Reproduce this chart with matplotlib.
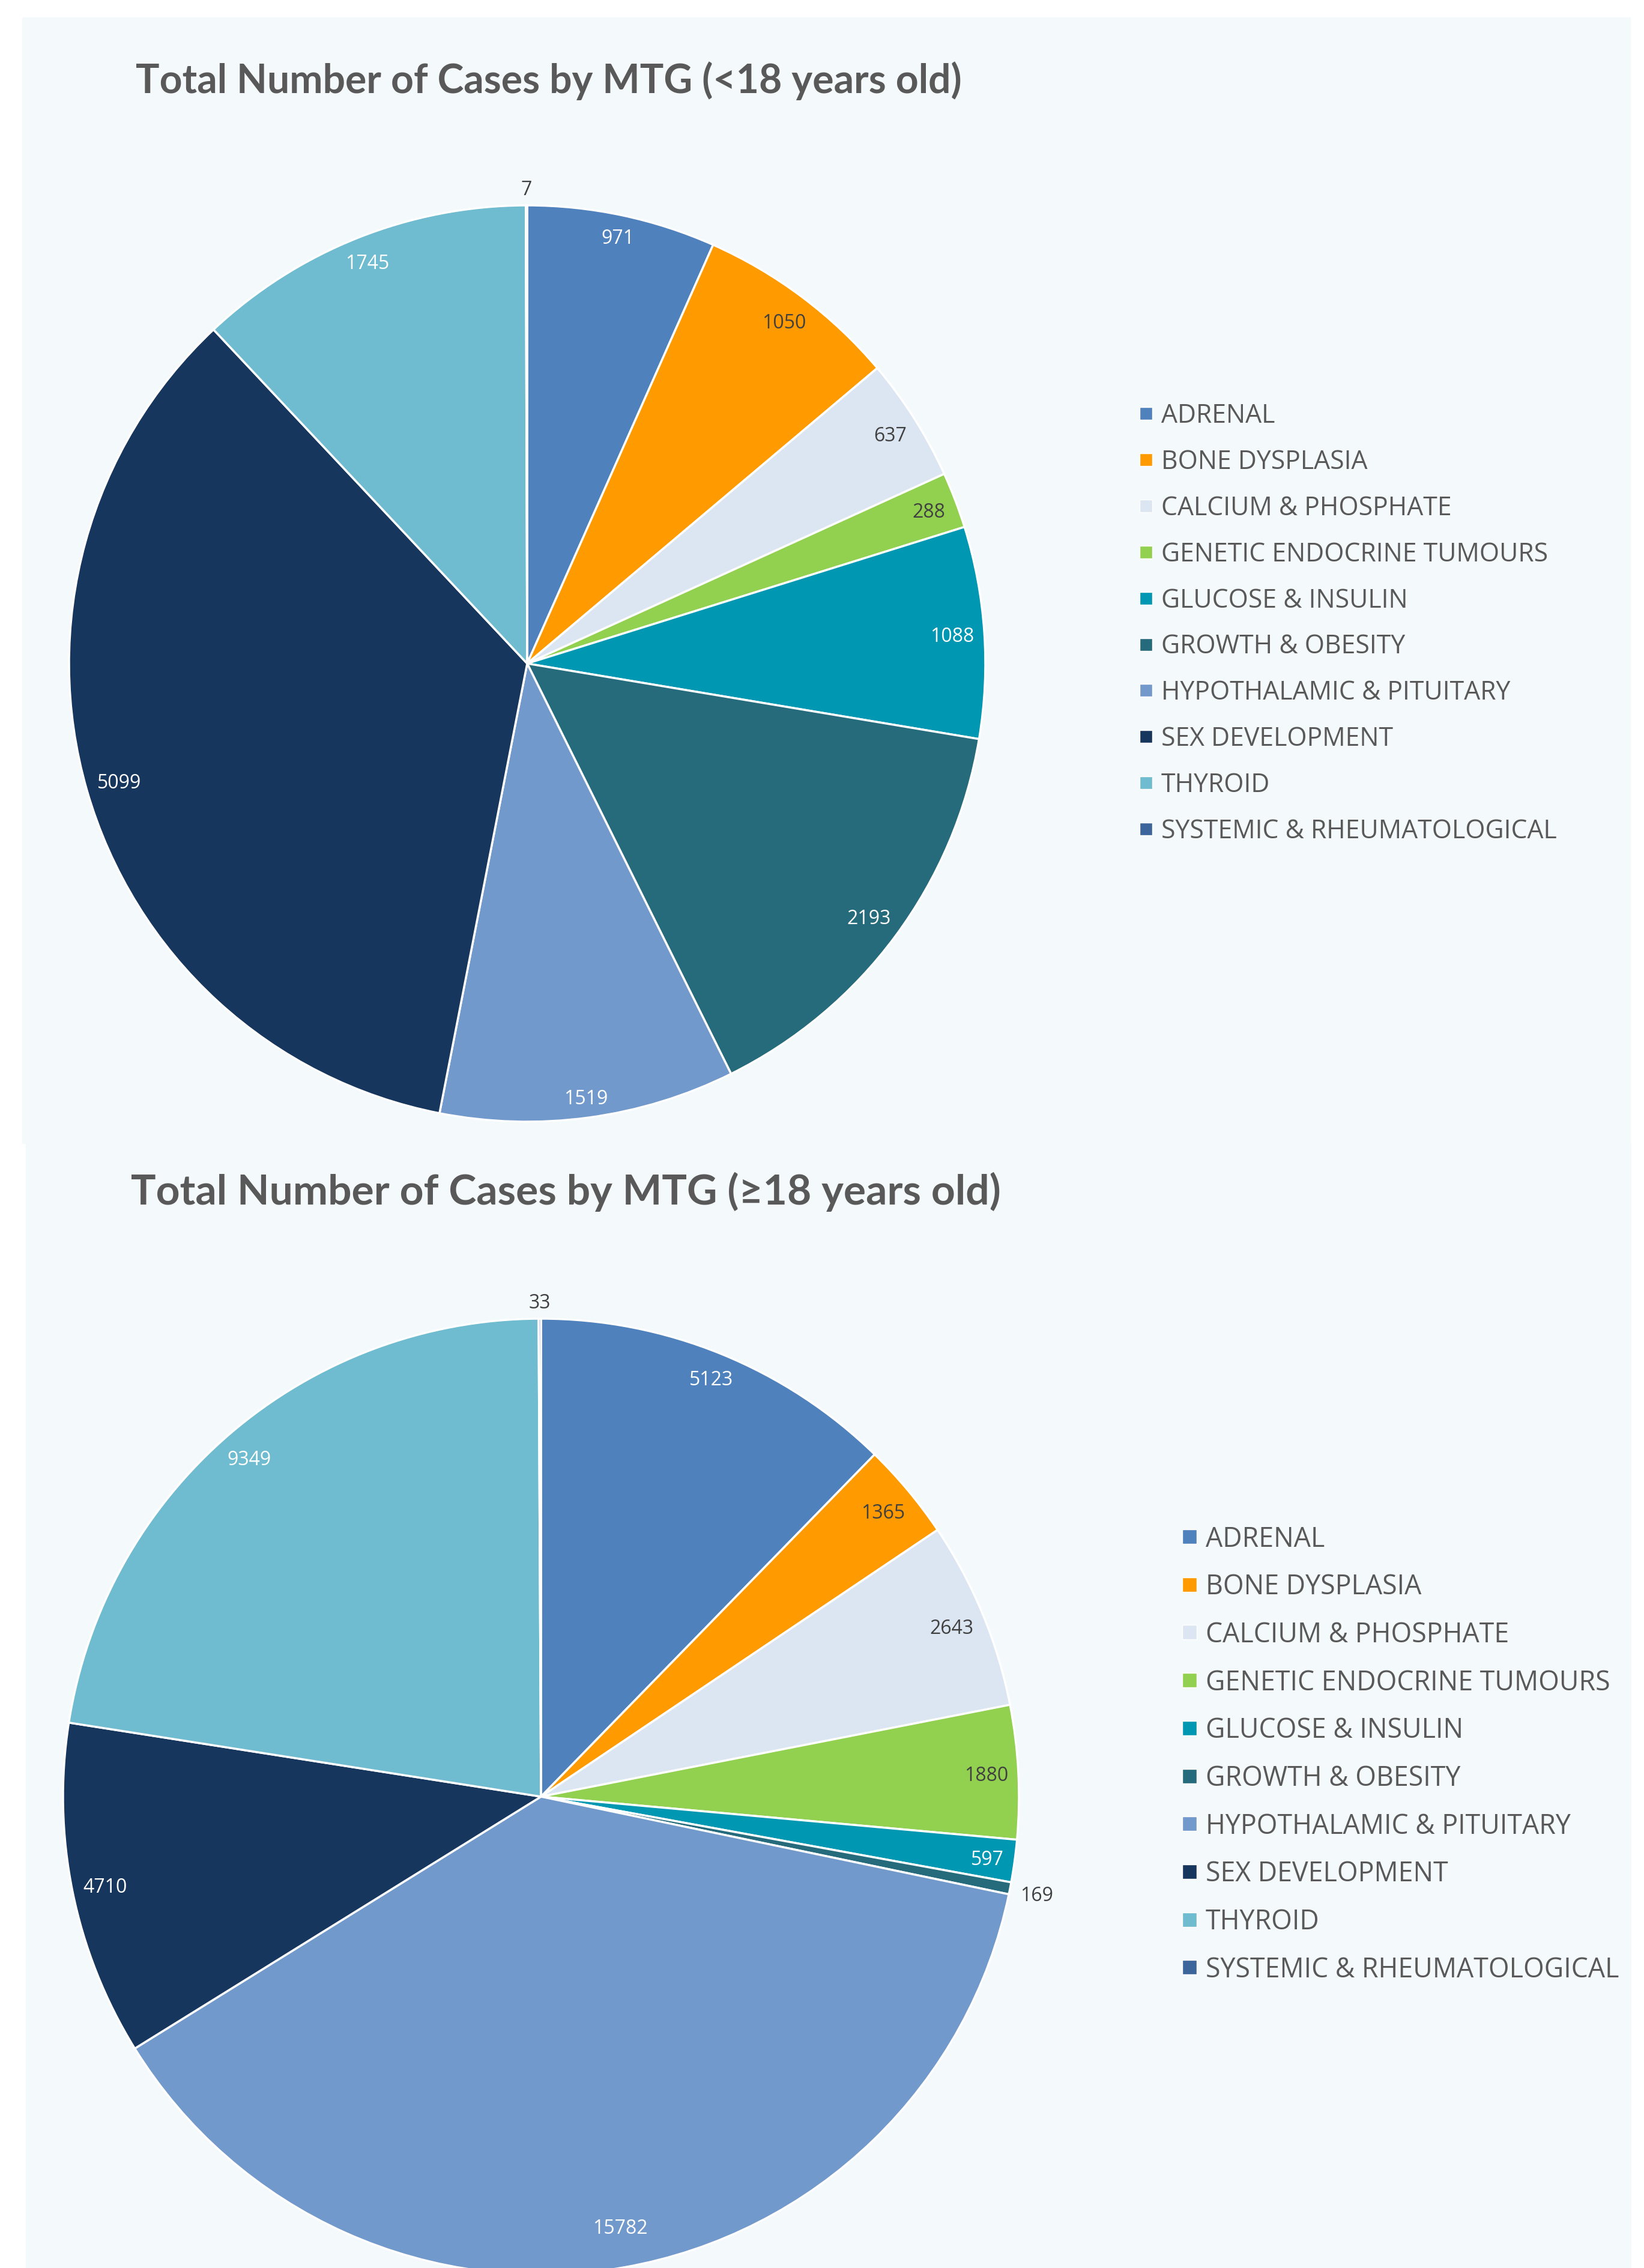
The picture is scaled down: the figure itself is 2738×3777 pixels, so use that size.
import numpy as np
import matplotlib.pyplot as plt
from matplotlib.patches import Rectangle

categories = ['ADRENAL', 'BONE DYSPLASIA', 'CALCIUM & PHOSPHATE', 'GENETIC ENDOCRINE TUMOURS',
              'GLUCOSE & INSULIN', 'GROWTH & OBESITY', 'HYPOTHALAMIC & PITUITARY',
              'SEX DEVELOPMENT', 'THYROID', 'SYSTEMIC & RHEUMATOLOGICAL']
under18 = [971, 1050, 637, 288, 1088, 2193, 1519, 5099, 1745, 7]
over18 = [5123, 1365, 2643, 1880, 597, 169, 15782, 4710, 9349, 33]

colors = ['#4F81BD', '#FF9A00', '#DCE6F2', '#92D050', '#0097B2',
          '#266B7B', '#7299CB', '#17365D', '#6FBBCF', '#3B659B']
dark_text = ['BONE DYSPLASIA', 'CALCIUM & PHOSPHATE', 'GENETIC ENDOCRINE TUMOURS']

W, H = 2738, 3777
bg = '#F4F9FC'
grey = '#595959'


def fx(x):
    return x / W


def fy(y):
    return 1 - y / H


fig = plt.figure(figsize=(W / 100, H / 100), dpi=100)
fig.patch.set_facecolor('white')

# the two chart panels (behind the axes)
fig.patches.append(Rectangle((fx(37), fy(1904)), (2715 - 37) / W, (1904 - 29) / H,
                             transform=fig.transFigure, color=bg, zorder=-5))
fig.patches.append(Rectangle((fx(43), 0), (2716 - 43) / W, (3777 - 1904) / H,
                             transform=fig.transFigure, color=bg, zorder=-5))


def draw_pie(values, cx, cy, R, title, tx, ty, tsize, lx, ly, ldy, lsw, lsize, lcap):
    half = 1.15 * R
    ax = fig.add_axes([fx(cx - half), fy(cy + half), 2 * half / W, 2 * half / H])
    wedges, _ = ax.pie(values, colors=colors, startangle=90, counterclock=False, radius=1,
                       wedgeprops=dict(edgecolor='white', linewidth=2.5))
    ax.set_xlim(-half / R, half / R)
    ax.set_ylim(-half / R, half / R)
    ax.axis('off')
    total = sum(values)
    for w, v, cat in zip(wedges, values, categories):
        ang = np.deg2rad((w.theta1 + w.theta2) / 2)
        tw = 19 * len(str(v))
        ext = tw / 2 * abs(np.cos(ang)) + 15 * abs(np.sin(ang))
        if v / total < 0.01:
            r = (R + 14 + ext) / R
            col = '#404040'
        else:
            r = (R - 15 - ext) / R
            col = '#404040' if cat in dark_text else 'white'
        x, y = r * np.cos(ang), r * np.sin(ang)
        # keep labels inside the chart area, like Excel does
        y = max(y, -(H - 70 - cy) / R)
        ax.text(x, y, str(v), ha='center', va='center_baseline',
                fontsize=23, family=['Open Sans', 'DejaVu Sans'], color=col)

    fig.text(fx(tx), fy(ty), title, fontsize=tsize, fontweight='bold',
             family=['Lato', 'DejaVu Sans'], color=grey, va='baseline')

    for i, (cat, col) in enumerate(zip(categories, colors)):
        yc = ly + i * ldy
        fig.patches.append(Rectangle((fx(lx), fy(yc + lsw / 2)), lsw / W, lsw / H,
                                     transform=fig.transFigure, facecolor=col,
                                     edgecolor='white', linewidth=1, zorder=2))
        fig.text(fx(lx + lsw + 15), fy(yc + lcap / 2), cat, fontsize=lsize,
                 family=['Open Sans', 'DejaVu Sans'], color=grey, va='baseline')


draw_pie(under18, 878, 1105, 763, 'Total Number of Cases by MTG (<18 years old)',
         226, 155, 47.5, 1898, 689, 76.8, 21, 30.8, 30.6)
draw_pie(over18, 901, 2992, 796, 'Total Number of Cases by MTG (\u226518 years old)',
         218, 2006, 50, 1969, 2559, 79.7, 24, 32.1, 33)

fig.savefig('out.png', dpi=100, facecolor='white')
